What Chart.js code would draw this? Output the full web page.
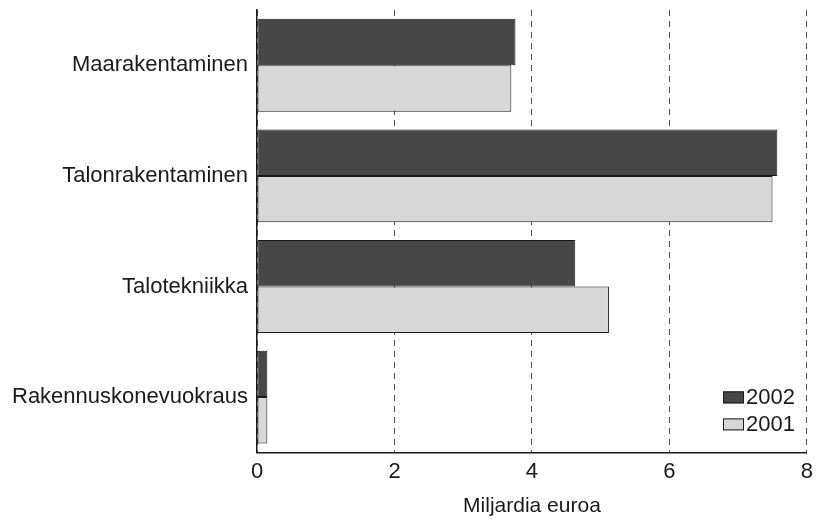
<!DOCTYPE html>
<html>
<head>
<meta charset="utf-8">
<script src="https://cdn.jsdelivr.net/npm/chart.js@4.4.1/dist/chart.umd.min.js"></script>
<style>
html,body{margin:0;padding:0;background:#fff;}
#wrap{width:819px;height:519px;position:relative;}
</style>
</head>
<body>
<div id="wrap"><canvas id="c" width="819" height="519"></canvas></div>
<script>
const categories = ["Maarakentaminen", "Talonrakentaminen", "Talotekniikka", "Rakennuskonevuokraus"];
const values2002 = [3.76, 7.57, 4.63, 0.15];
const values2001 = [3.70, 7.50, 5.12, 0.15];
const seriesLabels = ["2002", "2001"];
const xTicks = [0, 2, 4, 6, 8];
const axisTitle = "Miljardia euroa";

const FONT = "'Liberation Sans', Arial, sans-serif";
const TXT = "#1a1a1a";

const legendInside = {
  id: 'legendInside',
  afterDraw(chart) {
    const ctx = chart.ctx;
    const ca = chart.chartArea;
    const ds = chart.data.datasets;
    ctx.save();
    ctx.font = "22px " + FONT;
    ctx.textBaseline = "middle";
    ctx.textAlign = "left";
    const boxW = 21, boxH = 12;
    const x0 = 723;
    const rows = [ca.bottom - 55, ca.bottom - 28];
    ds.forEach((d, i) => {
      const y = rows[i];
      ctx.fillStyle = d.backgroundColor;
      ctx.fillRect(x0, y - boxH / 2, boxW, boxH);
      ctx.strokeStyle = "#1a1a1a";
      ctx.lineWidth = 1;
      ctx.strokeRect(x0 + 0.5, y - boxH / 2 + 0.5, boxW - 1, boxH - 1);
      ctx.fillStyle = TXT;
      ctx.fillText(d.label, x0 + boxW + 2, y + 1);
    });
    ctx.restore();
  }
};

new Chart(document.getElementById('c'), {
  type: 'bar',
  data: {
    labels: categories,
    datasets: [
      { label: seriesLabels[0], data: values2002, backgroundColor: "#474747", borderColor: "#1a1a1a", borderWidth: 1, borderSkipped: false },
      { label: seriesLabels[1], data: values2001, backgroundColor: "#d7d7d7", borderColor: "#1a1a1a", borderWidth: 1, borderSkipped: false }
    ]
  },
  options: {
    indexAxis: 'y',
    responsive: false,
    animation: false,
    layout: { padding: { top: 10, right: 0, left: 3, bottom: 0 } },
    datasets: { bar: { categoryPercentage: 0.84, barPercentage: 1.0 } },
    plugins: { legend: { display: false }, tooltip: { enabled: false } },
    scales: {
      x: {
        min: 0, max: 8,
        afterBuildTicks: (s) => { s.ticks = xTicks.map(v => ({ value: v })); },
        grid: { color: "#555", lineWidth: 1, drawTicks: false, drawOnChartArea: true },
        border: { display: true, color: "#1a1a1a", width: 1.5, dash: [6, 5] },
        ticks: { color: TXT, font: { family: FONT, size: 22 }, padding: 6, maxRotation: 0 },
        title: { display: true, text: axisTitle, color: TXT, font: { family: FONT, size: 21 }, padding: { top: 3, bottom: 0 } }
      },
      y: {
        afterFit: (s) => { s.paddingTop = 0; s.paddingBottom = 0; },
        grid: { display: false, drawTicks: false },
        border: { display: true, color: "#1a1a1a", width: 1.5 },
        ticks: { color: TXT, font: { family: FONT, size: 22 }, padding: 9 }
      }
    }
  },
  plugins: [legendInside]
});
</script>
</body>
</html>
